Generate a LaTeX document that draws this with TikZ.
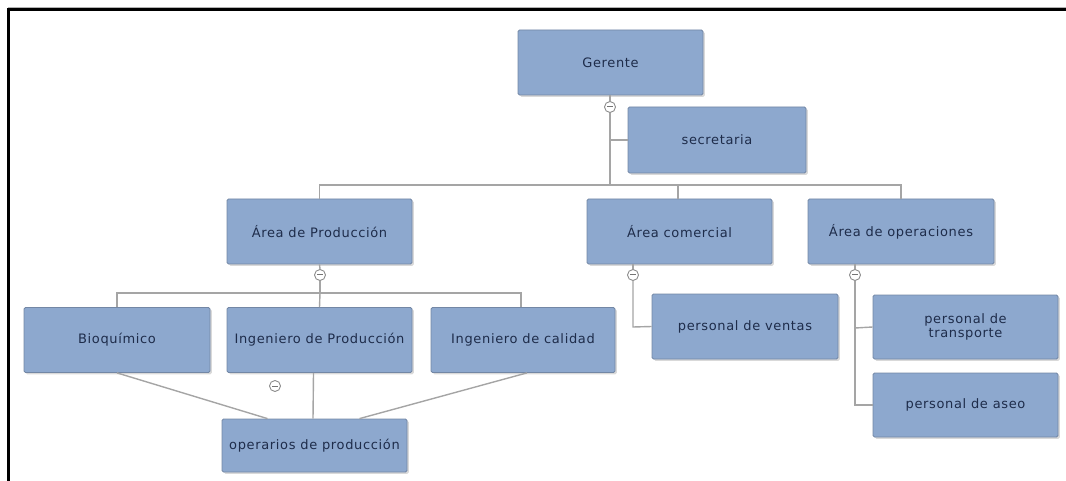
\documentclass[tikz,border=0pt]{standalone}
\usepackage{fontspec}
\setmainfont{DejaVu Sans}[LetterSpace=5]
\usetikzlibrary{shadows}
\definecolor{boxfill}{RGB}{141,168,206}
\definecolor{boxedge}{RGB}{115,135,165}
\definecolor{txtcol}{RGB}{30,44,74}
\definecolor{lineg}{RGB}{165,165,165}
\tikzset{
  orgbox/.style={rectangle, rounded corners=1.5pt, fill=boxfill, draw=boxedge, line width=0.8pt,
    minimum width=185pt, minimum height=65pt, inner sep=2pt, text=txtcol,
    font=\fontsize{13}{14.5}\selectfont, align=center,
    drop shadow={shadow xshift=1.8pt, shadow yshift=-1.8pt, opacity=0.3}},
  link/.style={draw=lineg, line width=1.4pt},
  tog/.style={circle, draw=lineg!85!black, fill=white, line width=0.9pt, minimum size=11pt, inner sep=0pt,
    path picture={\draw[lineg!70!black, line width=1pt] ([xshift=-2.6pt]path picture bounding box.center) -- ([xshift=2.6pt]path picture bounding box.center);}},
  frame/.style={draw=black, line width=3pt}
}
\begin{document}
\begin{tikzpicture}[x=1pt, y=-1pt]
\useasboundingbox (0,0) rectangle (1066,481);
% frame
\draw[gray!60, line width=1pt] (8,7.2) -- (1066,7.2);
\draw[frame] (8.5,481) -- (8.5,9.5) -- (1066,9.5);

% boxes
\node[orgbox] (G)  at (610.5,62.5) {Gerente};
\node[orgbox, minimum width=178pt, minimum height=66pt] (S) at (717,140) {secretaria};
\node[orgbox] (AP) at (319.5,231.5) {Área de Producción};
\node[orgbox] (AC) at (679.5,231.5) {Área comercial};
\node[orgbox, minimum width=186pt] (AO) at (901,231.5) {Área de operaciones};
\node[orgbox, minimum width=186pt] (B)  at (117,340) {Bioquímico};
\node[orgbox] (IP) at (319.5,340) {Ingeniero de Producción};
\node[orgbox, minimum width=184pt] (IC) at (523,340) {Ingeniero de calidad};
\node[orgbox, minimum height=53pt] (OP) at (314.5,445.5) {operarios de producción};
\node[orgbox, minimum width=186pt] (PV) at (745,326.5) {personal de ventas};
\node[orgbox, minimum height=64pt] (PT) at (965.5,327) {personal de\\transporte};
\node[orgbox, minimum height=64pt] (PA) at (965.5,405) {personal de aseo};

% toggles
\node[tog] (tG)  at (610,107) {};
\node[tog] (tAP) at (320,275) {};
\node[tog] (tAC) at (633,275) {};
\node[tog] (tAO) at (855,275) {};
\node[tog] (tIP) at (275,386) {};

% junction coordinates
\coordinate (j1) at (610,185);
\coordinate (j2) at (320,293);
\coordinate (jPV) at (633,327);
\coordinate (jPT) at (855,328);
\coordinate (jPA) at (855,405);

% Gerente level
\draw[link] (G.south -| tG) -- (tG.north);
\draw[link] (tG.south) -- (j1);
\draw[link] (tG |- S.west) -- (S.west);
\draw[link] (AP.north) -- (AP.north |- j1) -- (AO.north |- j1) -- (AO.north);
\draw[link] ([xshift=-1.5pt]AC.north) -- ([xshift=-1.5pt]AC.north |- j1);

% Area de Produccion
\draw[link] (AP.south) -- (tAP.north);
\draw[link] (tAP.south) -- (j2);
\draw[link] (B.north) -- (B.north |- j2) -- ([xshift=-2pt]IC.north |- j2) -- ([xshift=-2pt]IC.north);
\draw[link] (j2) -- (IP.north);
\draw[link] (B.south) -- ([xshift=-47pt]OP.north);
\draw[link] ([xshift=-6pt]IP.south) -- ([xshift=-1.5pt]OP.north);
\draw[link] ([xshift=4pt]IC.south) -- ([xshift=45pt]OP.north);

% Area comercial
\draw[link] (AC.south -| tAC) -- (tAC.north);
\draw[link] (tAC.south) -- (jPV) -- (PV.west);

% Area de operaciones
\draw[link] (AO.south -| tAO) -- (tAO.north);
\draw[link] (tAO.south) -- (jPA) -- (PA.west);
\draw[link] (jPT) -- (PT.west);
\end{tikzpicture}
\end{document}
